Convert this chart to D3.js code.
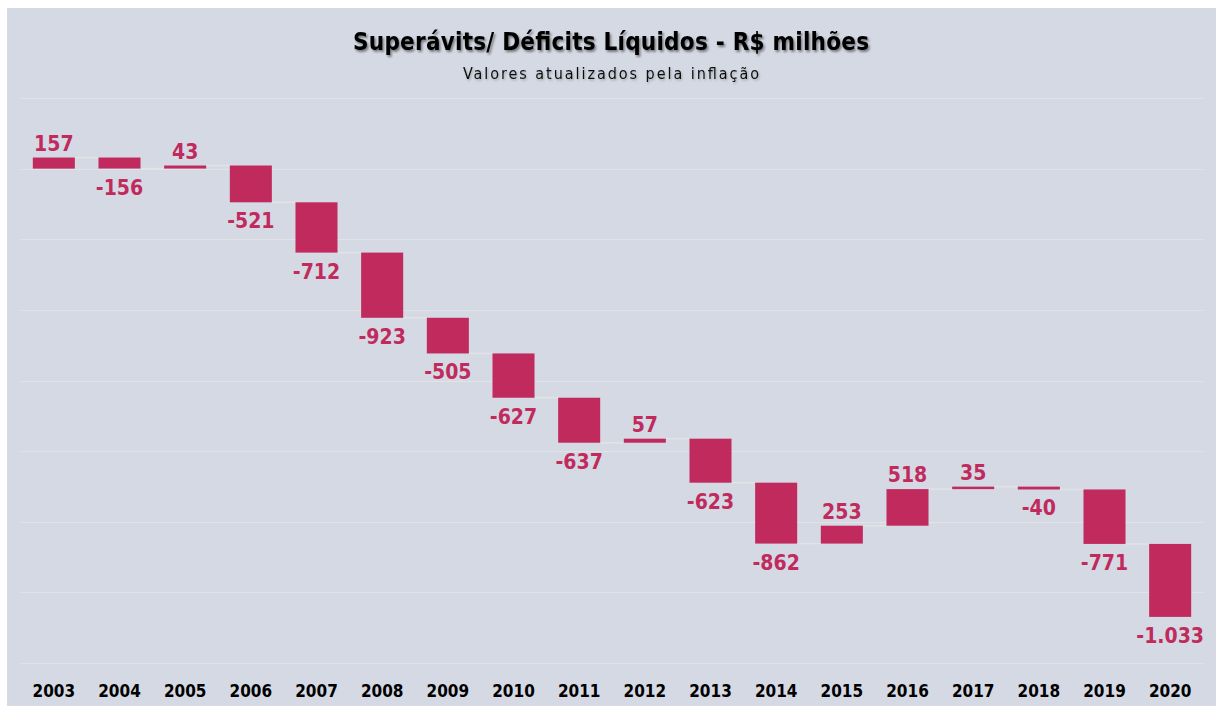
<!DOCTYPE html>
<html>
<head>
<meta charset="utf-8">
<script src="https://cdn.jsdelivr.net/npm/d3@7/dist/d3.min.js"></script>
<style>
  html, body { margin: 0; padding: 0; background: #ffffff; }
  svg { display: block; }
</style>
</head>
<body>
<svg id="chart" width="1216" height="706"></svg>
<script>
// ---- Data ----
const years = ["2003","2004","2005","2006","2007","2008","2009","2010","2011","2012","2013","2014","2015","2016","2017","2018","2019","2020"];
const values = [157, -156, 43, -521, -712, -923, -505, -627, -637, 57, -623, -862, 253, 518, 35, -40, -771, -1033];
const titleText = "Superávits/ Déficits Líquidos - R$ milhões";
const subtitleText = "Valores atualizados pela inflação";

// ---- Setup ----
const W = 1216, H = 706;
const svg = d3.select("#chart");
const fontFam = "'DejaVu Sans Condensed', 'Liberation Sans Narrow', 'DejaVu Sans', sans-serif";
const barColor = "#C02A5C";
const bgColor = "#D5D9E3";
const gridColor = "#E2E3E7";

const defs = svg.append("defs");
const f = defs.append("filter").attr("id", "shadow").attr("x", "-10%").attr("y", "-30%").attr("width", "120%").attr("height", "160%");
f.append("feDropShadow").attr("dx", 1.5).attr("dy", 2).attr("stdDeviation", 1.2).attr("flood-color", "#000").attr("flood-opacity", 0.45);
const f2 = defs.append("filter").attr("id", "shadow2").attr("x", "-10%").attr("y", "-30%").attr("width", "120%").attr("height", "160%");
f2.append("feDropShadow").attr("dx", 1).attr("dy", 1.5).attr("stdDeviation", 0.8).attr("flood-color", "#000").attr("flood-opacity", 0.25);

svg.append("rect").attr("x", 0).attr("y", 0).attr("width", W).attr("height", H).attr("fill", "#ffffff");
svg.append("rect").attr("x", 7).attr("y", 8).attr("width", W - 7).attr("height", H - 8).attr("fill", bgColor);

const x = d3.scaleBand().domain(years).range([21, 1203]).paddingInner(0.36).paddingOuter(0.18);
const y = d3.scaleLinear().domain([1000, -7000]).range([98, 663]);

const locale = d3.formatLocale({ decimal: ",", thousands: ".", grouping: [3], currency: ["R$", ""], minus: "-" });
const fmt = locale.format(",d");

// cumulative levels
const ends = d3.cumsum(values);
const data = years.map((yr, i) => ({ year: yr, value: values[i], start: i === 0 ? 0 : ends[i - 1], end: ends[i] }));

// gridlines
svg.append("g").selectAll("line").data(y.ticks(8)).join("line")
  .attr("x1", 21).attr("x2", 1203)
  .attr("y1", d => Math.round(y(d)) + 0.5).attr("y2", d => Math.round(y(d)) + 0.5)
  .attr("stroke", gridColor).attr("stroke-width", 1);

// connectors
svg.append("g").selectAll("line").data(data.slice(0, -1)).join("line")
  .attr("x1", (d) => x(d.year) + x.bandwidth())
  .attr("x2", (d, i) => x(years[i + 1]))
  .attr("y1", d => y(d.end)).attr("y2", d => y(d.end))
  .attr("stroke", gridColor).attr("stroke-width", 1.5);

// bars
svg.append("g").selectAll("rect").data(data).join("rect")
  .attr("x", d => x(d.year))
  .attr("width", x.bandwidth())
  .attr("y", d => y(Math.max(d.start, d.end)))
  .attr("height", d => Math.max(1.5, Math.abs(y(d.start) - y(d.end))))
  .attr("fill", barColor);

// value labels
svg.append("g").selectAll("text").data(data).join("text")
  .attr("x", d => x(d.year) + x.bandwidth() / 2)
  .attr("y", d => d.value >= 0 ? y(Math.max(d.start, d.end)) - 7 : y(Math.min(d.start, d.end)) + 26)
  .attr("text-anchor", "middle")
  .attr("font-family", fontFam)
  .attr("font-weight", "bold")
  .attr("font-size", 21)
  .attr("fill", barColor)
  .text(d => fmt(d.value));

// x-axis labels
const xAxis = d3.axisBottom(x).tickSize(0).tickPadding(0);
const gx = svg.append("g").attr("transform", "translate(0,685)").call(xAxis);
gx.select(".domain").remove();
gx.selectAll("text")
  .attr("font-family", fontFam)
  .attr("font-weight", "bold")
  .attr("font-size", 17)
  .attr("fill", "#000");

// title
svg.append("text")
  .attr("x", 611).attr("y", 50)
  .attr("text-anchor", "middle")
  .attr("font-family", fontFam)
  .attr("font-weight", "bold")
  .attr("font-size", 24)
  .attr("textLength", 516)
  .attr("lengthAdjust", "spacing")
  .attr("fill", "#000")
  .attr("filter", "url(#shadow)")
  .text(titleText);

svg.append("text")
  .attr("x", 611).attr("y", 79)
  .attr("text-anchor", "middle")
  .attr("font-family", fontFam)
  .attr("font-size", 16)
  .attr("textLength", 296)
  .attr("lengthAdjust", "spacing")
  .attr("fill", "#111")
  .attr("filter", "url(#shadow2)")
  .text(subtitleText);
</script>
</body>
</html>
